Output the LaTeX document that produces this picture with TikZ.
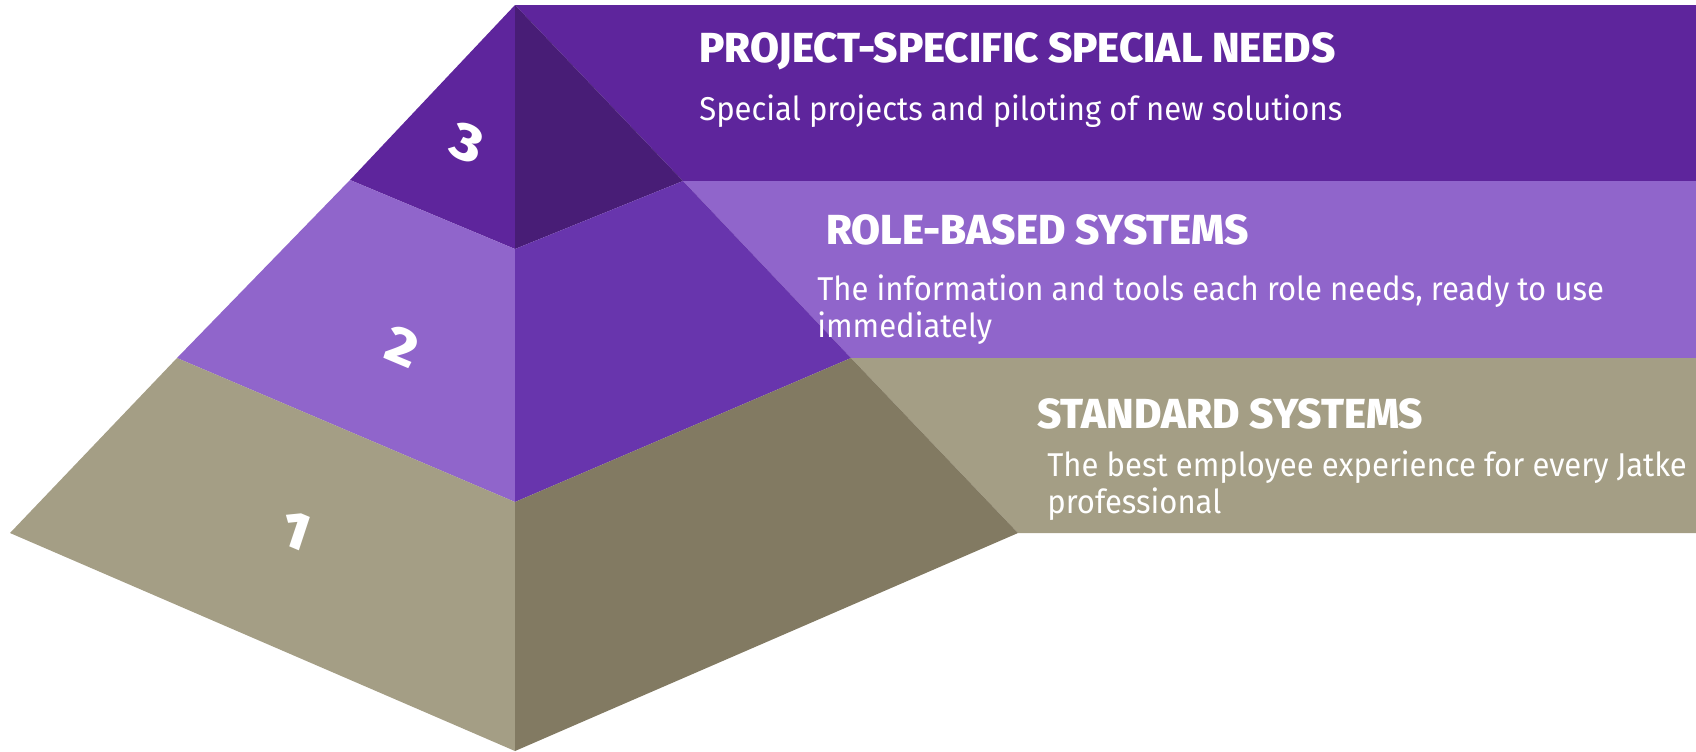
\documentclass[tikz,border=0pt]{standalone}
\usepackage{fontspec}
\setmainfont{Fira Sans}
\IfFontExistsTF{Fira Sans ExtraBold}
    {\newfontfamily\headfam[FakeStretch=1.0]{Fira Sans ExtraBold}
     \newcommand\headfont{\headfam}}
    {\newfontfamily\headfam{Fira Sans}
     \newcommand\headfont{\headfam\bfseries}}
\IfFontExistsTF{Fira Sans ExtraBold Italic}
    {\newfontfamily\numfam{Fira Sans ExtraBold Italic}
     \newcommand\numfont{\numfam}}
    {\newfontfamily\numfam{Fira Sans}
     \newcommand\numfont{\numfam\bfseries\itshape}}
\newfontfamily\bodyfont[FakeStretch=0.94]{Fira Sans}
\usepackage{tikz}

\definecolor{tierthree}{HTML}{5E259C}
\definecolor{tierthreedark}{HTML}{481D76}
\definecolor{tiertwo}{HTML}{9065CB}
\definecolor{tiertwodark}{HTML}{6835AD}
\definecolor{tierone}{HTML}{A49E85}
\definecolor{tieronedark}{HTML}{827A62}

\tikzset{
    heading/.style={anchor=base west, inner sep=0pt, text=white,
        font=\headfont\fontsize{21}{24}\selectfont},
    blurb/.style={anchor=base west, inner sep=0pt, text=white, align=left,
        font=\bodyfont\fontsize{16.5}{18.5}\selectfont},
    tiernum/.style={text=white, inner sep=0pt, yslant=-0.42, xslant=0.15,
        font=\numfont\fontsize{28}{28}\selectfont}
}

\begin{document}
\begin{tikzpicture}[x=0.5pt, y={(0,-0.5pt)}]
    \useasboundingbox (0,0) rectangle (1696,751);

    % corners of the pyramid
    \coordinate (apex) at (515,5);
    \coordinate (l3) at (350,180);
    \coordinate (r3) at (683,181);
    \coordinate (m3) at (515,249);
    \coordinate (l2) at (177,358);
    \coordinate (r2) at (851,358);
    \coordinate (m2) at (515,502);
    \coordinate (l1) at (10,533);
    \coordinate (r1) at (1018,533);
    \coordinate (base) at (515,751);

    % bands
    \fill[tierthree] (apex) -- (1696,5) -- (1696,181) -- (r3) -- cycle;
    \fill[tiertwo] (r3) -- (1696,181) -- (1696,358) -- (r2) -- cycle;
    \fill[tierone] (r2) -- (1696,358) -- (1696,533) -- (r1) -- cycle;

    % faces
    \fill[tierthree] (apex) -- (l3) -- (m3) -- cycle;
    \fill[tierthreedark] (apex) -- (r3) -- (m3) -- cycle;
    \fill[tiertwo] (l3) -- (l2) -- (m2) -- (m3) -- cycle;
    \fill[tiertwodark] (m3) -- (r3) -- (r2) -- (m2) -- cycle;
    \fill[tierone] (l2) -- (l1) -- (base) -- (m2) -- cycle;
    \fill[tieronedark] (m2) -- (r2) -- (r1) -- (base) -- cycle;

    \node[tiernum] (num3) at (467,143) {3};
    \node[tiernum] (num2) at (402,346) {2};
    \node[tiernum] (num1) at (295,530) {1};

    \node[heading] (head3) at (699,62) {PROJECT-SPECIFIC SPECIAL NEEDS};
    \node[blurb] (text3) at (699,120) {Special projects and piloting of new solutions};
    \node[heading] (head2) at (826,244) {ROLE-BASED SYSTEMS};
    \node[blurb] (text2) at (817,337) {The information and tools each role needs, ready to use\\immediately};
    \node[heading] (head1) at (1037,428) {STANDARD SYSTEMS};
    \node[blurb] (text1) at (1047,513) {The best employee experience for every Jatke\\professional};
\end{tikzpicture}
\end{document}
